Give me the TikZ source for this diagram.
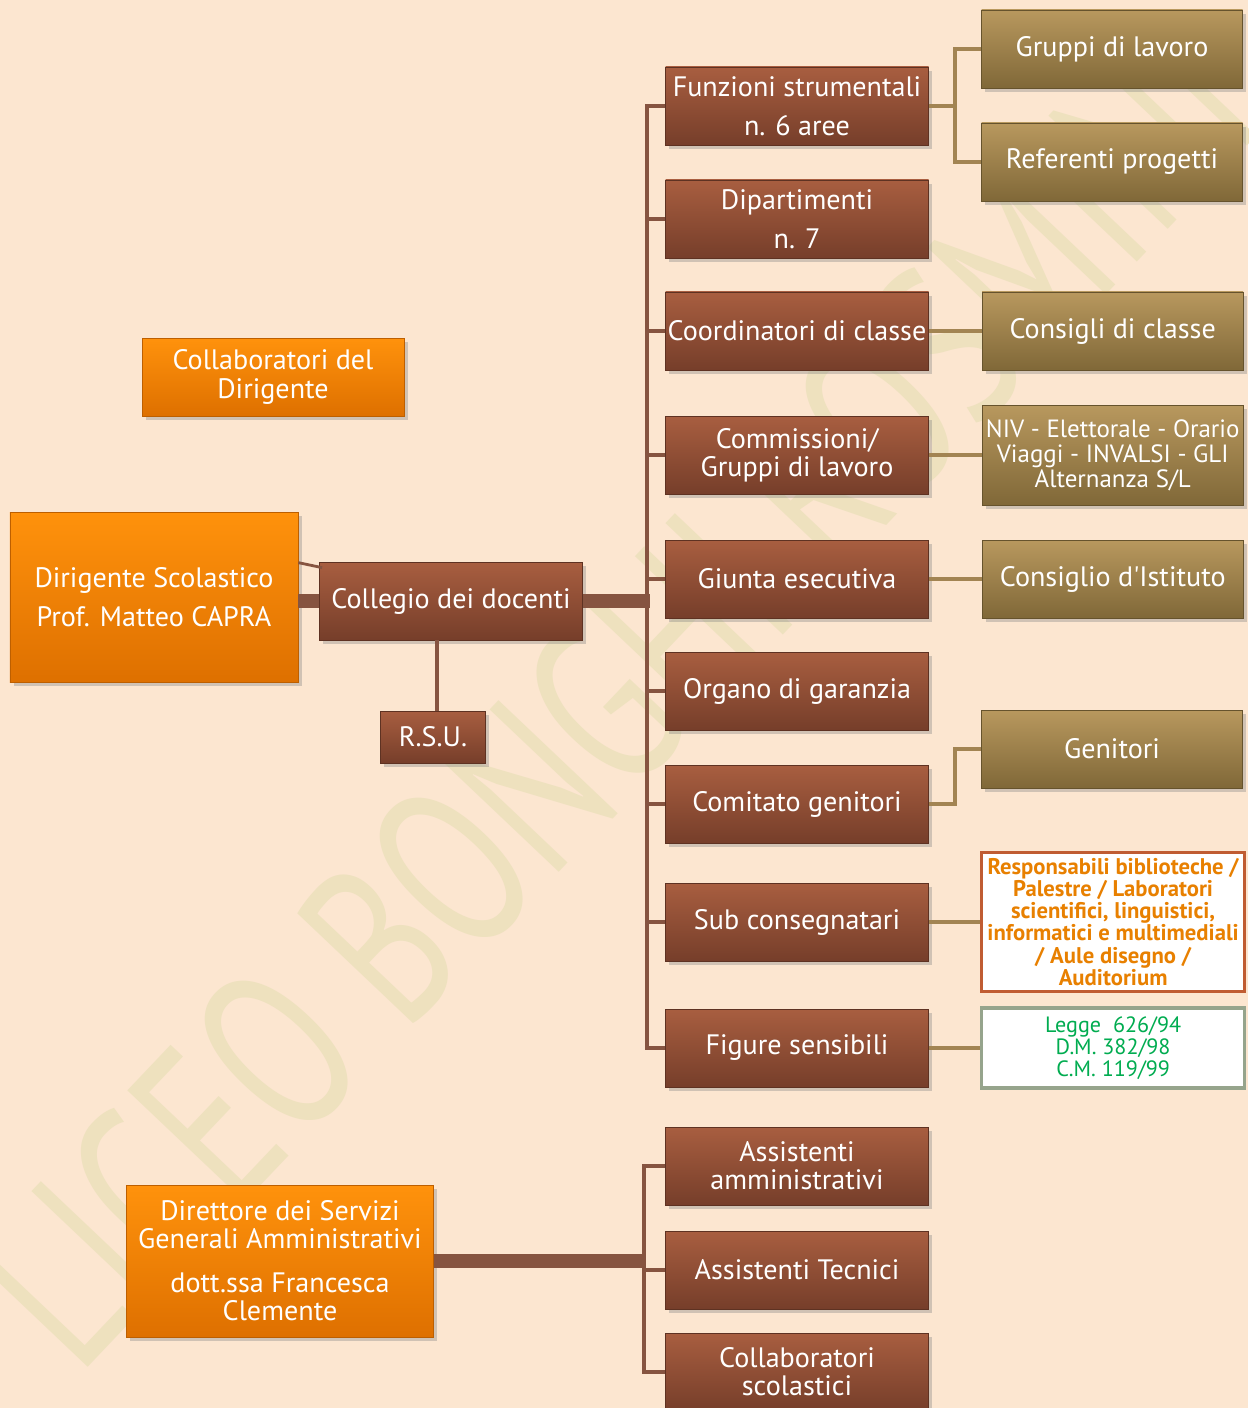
\documentclass[tikz,border=0pt]{standalone}
\usepackage{fontspec}
\setmainfont{PT Sans}
\usetikzlibrary{positioning,shadows,calc}
\definecolor{bgpeach}{RGB}{252, 230, 208}
\definecolor{wmark}{RGB}{238, 225, 190}
\definecolor{browntop}{RGB}{168, 94, 64}
\definecolor{brownbot}{RGB}{118, 62, 42}
\definecolor{olivetop}{RGB}{184, 152, 94}
\definecolor{olivebot}{RGB}{128, 104, 56}
\definecolor{orangetop}{RGB}{255, 146, 12}
\definecolor{orangebot}{RGB}{222, 112, 0}
\definecolor{linkbr}{RGB}{134, 84, 64}
\definecolor{linkol}{RGB}{162, 132, 82}
\definecolor{respred}{RGB}{192, 92, 50}
\definecolor{resptext}{RGB}{232, 128, 0}
\definecolor{leggegray}{RGB}{150, 164, 140}
\definecolor{leggetext}{RGB}{0, 172, 80}
\tikzset{
    boxbase/.style={rectangle, inner sep=1pt, align=center, text=white,
        font=\fontsize{16}{16}\selectfont,
        drop shadow={opacity=0.35, shadow xshift=2pt, shadow yshift=-2pt}},
    brownbox/.style={boxbase, top color=browntop, bottom color=brownbot, draw=brownbot!80!black, line width=0.4pt,
        minimum width=5.26cm, minimum height=1.56cm},
    olivebox/.style={boxbase, top color=olivetop, bottom color=olivebot, draw=olivebot!80!black, line width=0.4pt,
        minimum width=5.22cm, minimum height=1.56cm},
    orangebox/.style={boxbase, top color=orangetop, bottom color=orangebot, draw=orangebot!85!black, line width=0.4pt},
    linkbrown/.style={draw=linkbr, line width=2.6pt},
    linkthick/.style={draw=linkbr, line width=7.5pt},
    linkolive/.style={draw=linkol, line width=2.6pt}
}

\begin{document}
\begin{tikzpicture}[x=0.2mm, y=-0.2mm]
    \clip (0,0) rectangle (1248,1408);
    \useasboundingbox (0,0) rectangle (1248,1408);
    \fill[bgpeach] (0,0) rectangle (1248,1408);

    % Watermark
    \node[rotate=46.5, text=wmark, font=\fontsize{94}{94}\selectfont, yscale=1.4] (wm) at (615,695) {LICEO BONGHI ROSMINI};

    % Management
    \node[orangebox, minimum width=5.76cm, minimum height=3.4cm] (ds) at (154,597) {Dirigente Scolastico\\[6pt]Prof. Matteo CAPRA};
    \node[orangebox, minimum width=5.24cm, minimum height=1.56cm] (collab) at (273,377) {Collaboratori del\\Dirigente};
    \node[brownbox] (cd) at (451,601) {Collegio dei docenti};
    \node[brownbox, minimum width=2.1cm, minimum height=1.04cm] (rsu) at (433,737) {R.S.U.};

    % Collegio branches
    \node[brownbox] (fs) at (797,106) {Funzioni strumentali\\[6pt]n. 6 aree};
    \node[brownbox] (dip) at (797,219) {Dipartimenti\\[6pt]n. 7};
    \node[brownbox] (coord) at (797,331) {Coordinatori di classe};
    \node[brownbox] (comm) at (797,455) {Commissioni/\\Gruppi di lavoro};
    \node[brownbox] (giunta) at (797,579) {Giunta esecutiva};
    \node[brownbox] (organo) at (797,691) {Organo di garanzia};
    \node[brownbox] (comgen) at (797,804) {Comitato genitori};
    \node[brownbox] (subc) at (797,922) {Sub consegnatari};
    \node[brownbox] (fig) at (797,1048) {Figure sensibili};

    % Second level
    \node[olivebox] (gl) at (1112,49) {Gruppi di lavoro};
    \node[olivebox] (rp) at (1112,162) {Referenti progetti};
    \node[olivebox, right=1.06cm of coord] (cc) {Consigli di classe};
    \node[olivebox, right=1.06cm of comm, minimum height=2cm, font=\fontsize{14.2}{14.2}\selectfont] (niv) {NIV - Elettorale - Orario\\Viaggi - INVALSI - GLI\\Alternanza S/L};
    \node[olivebox, right=1.06cm of giunta] (ci) {Consiglio d\textquotesingle Istituto};
    \node[olivebox] (gen) at (1112,749) {Genitori};
    \node[rectangle, draw=respred, line width=2pt, fill=white, minimum width=5.26cm, minimum height=2.78cm, inner sep=1pt,
        right=1.02cm of subc, align=center, text=resptext, font=\fontsize{12.9}{12.6}\selectfont\bfseries] (resp)
        {Responsabili biblioteche /\\Palestre / Laboratori\\scientifici, linguistici,\\informatici e multimediali\\/ Aule disegno /\\Auditorium};
    \node[rectangle, draw=leggegray, line width=2pt, fill=white, minimum width=5.26cm, minimum height=1.6cm, inner sep=1pt,
        right=1.02cm of fig, align=center, text=leggetext, font=\fontsize{12.6}{12.6}\selectfont] (legge)
        {Legge\ \ 626/94\\D.M. 382/98\\C.M. 119/99};

    % Administration
    \node[orangebox, minimum width=6.14cm, minimum height=3.04cm] (dsga) at (280,1261) {Direttore dei Servizi\\Generali Amministrativi\\[9pt]dott.ssa Francesca\\Clemente};
    \node[brownbox] (aa) at (797,1166) {Assistenti\\amministrativi};
    \node[brownbox] (at) at (797,1270) {Assistenti Tecnici};
    \node[brownbox] (cs) at (797,1372) {Collaboratori\\scolastici};

    % Connectors
    \coordinate (tr) at ($(fs.west)+(-18,0)$);
    \draw[linkbrown] (fs.west) -| (tr) |- (fig.west);
    \foreach \n in {dip, coord, comm, giunta, organo, comgen, subc}
        \draw[linkbrown] (\n.west) -- (\n.west -| tr);
    \draw[linkthick] (cd.east) -- ($(cd.east -| tr)+(3,0)$);
    \draw[linkthick] (cd.west) -- (cd.west -| ds.east);
    \draw[linkbrown, line width=1.6pt] ($(ds.north east)+(0,51)$) -- ($(cd.north west)+(3,6)$);
    \coordinate (rs) at ($(rsu.north)+(4,0)$);
    \draw[linkbrown] (rs) -- (rs |- cd.south);

    \coordinate (fj) at ($(fs.east)+(26,0)$);
    \draw[linkolive] (fs.east) -- (fj);
    \draw[linkolive] (gl.west) -| (fj) |- (rp.west);
    \draw[linkolive] (coord.east) -- (cc.west);
    \draw[linkolive] (comm.east) -- (niv.west);
    \draw[linkolive] (giunta.east) -- (ci.west);
    \draw[linkolive] (comgen.east) -- ++(26,0) |- (gen.west);
    \draw[linkolive] (subc.east) -- (resp.west);
    \draw[linkolive] (fig.east) -- (legge.west);

    \coordinate (tr2) at ($(aa.west)+(-21,0)$);
    \draw[linkthick] (dsga.east) -- (dsga.east -| tr2);
    \draw[linkbrown] (aa.west) -| (tr2) |- (cs.west);
    \draw[linkbrown] (at.west) -- (at.west -| tr2);
\end{tikzpicture}
\end{document}
